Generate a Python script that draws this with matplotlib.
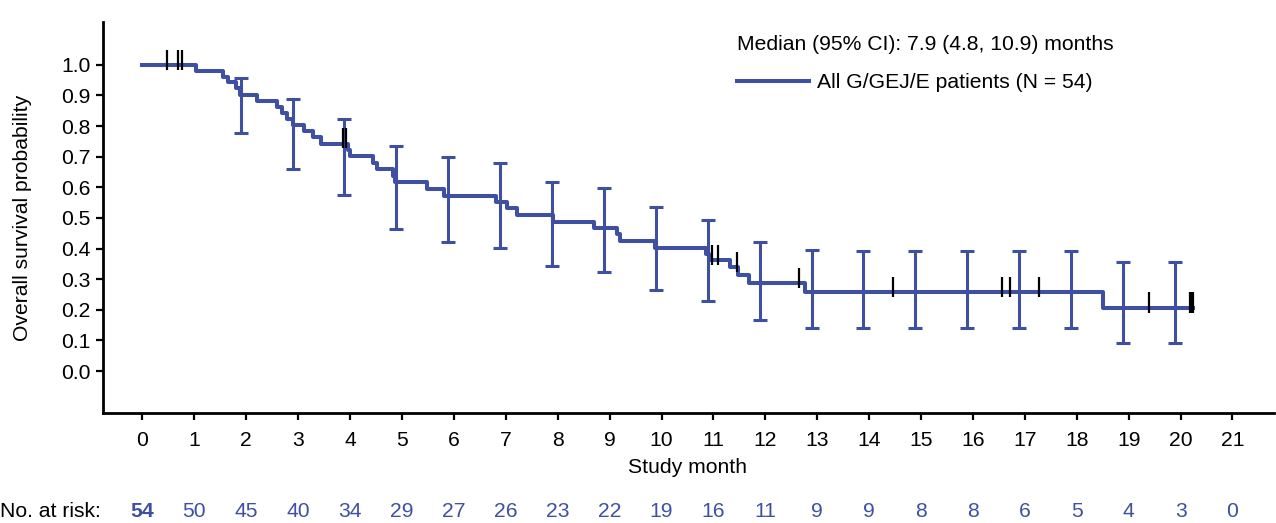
import numpy as np
import matplotlib.pyplot as plt
from matplotlib import transforms

plt.rcParams['font.family'] = ['Liberation Sans', 'DejaVu Sans']

# Kaplan-Meier steps (month, survival after the step)
times = [0, 1.03, 1.55, 1.64, 1.80, 1.87, 2.21, 2.60, 2.69, 2.78, 2.89, 3.11, 3.28, 3.44,
         3.95, 3.99, 4.45, 4.52, 4.83, 4.87, 5.49, 5.80, 6.81, 7.02, 7.22, 7.90, 8.70,
         9.14, 9.20, 9.87, 10.86, 10.92, 11.32, 11.47, 11.69, 12.76, 18.50, 20.24]
surv = [1.0, 0.981, 0.962, 0.943, 0.924, 0.902, 0.882, 0.863, 0.844, 0.823, 0.802, 0.783,
        0.763, 0.743, 0.723, 0.703, 0.681, 0.659, 0.637, 0.616, 0.595, 0.573, 0.553, 0.531,
        0.510, 0.488, 0.466, 0.447, 0.426, 0.403, 0.382, 0.362, 0.339, 0.314, 0.287, 0.258,
        0.207, 0.207]

# censored patients
cens_t = [0.48, 0.69, 0.76, 3.87, 3.93, 10.97, 11.09, 11.45, 12.65, 14.45, 16.55, 16.72,
          17.28, 19.40, 20.18, 20.21, 20.24]

# 95% CI bars
ci_t = [1.89, 2.89, 3.89, 4.89, 5.89, 6.89, 7.89, 8.89, 9.89, 10.89, 11.89, 12.89,
        13.89, 14.89, 15.89, 16.89, 17.89, 18.89, 19.89]
ci_hi = [0.957, 0.888, 0.824, 0.734, 0.698, 0.678, 0.619, 0.599, 0.537, 0.494, 0.421,
         0.394, 0.393, 0.393, 0.393, 0.393, 0.393, 0.355, 0.355]
ci_lo = [0.777, 0.661, 0.574, 0.463, 0.423, 0.401, 0.342, 0.323, 0.265, 0.229, 0.166,
         0.142, 0.141, 0.141, 0.141, 0.141, 0.141, 0.091, 0.091]

months = list(range(22))
at_risk = [54, 50, 45, 40, 34, 29, 27, 26, 23, 22, 19, 16, 11, 9, 9, 8, 8, 6, 5, 4, 3, 0]

blue = '#3f50a2'
fs = 15.2
W, H = 1276, 523

fig = plt.figure(figsize=(W/100, H/100), dpi=100)
ax = fig.add_axes([103/W, 110/H, 1171/W, 391/H])

ax.step(times, surv, where='post', color=blue, lw=2.9, zorder=3, label='All G/GEJ/E patients (N = 54)')

lo = np.array(ci_lo)
hi = np.array(ci_hi)
ax.errorbar(ci_t, lo, yerr=[np.zeros_like(lo), hi - lo], fmt='none', ecolor=blue,
            elinewidth=2.2, capsize=5.3, capthick=2.2, zorder=2)

# censor marks sit on the curve
idx = np.searchsorted(times, cens_t, side='right') - 1
cs = np.array(surv)[idx]
ax.vlines(cens_t, cs - 0.016, cs + 0.05, color='black', lw=1.6, zorder=4)

ax.set_xlim(-0.761, 21.80)
ax.set_ylim(-0.137, 1.14)
ax.set_xticks(months)
ax.set_yticks(np.round(np.arange(0, 1.01, 0.1), 1))
ax.set_yticklabels(['%.1f' % v for v in np.arange(0, 1.01, 0.1)])
ax.tick_params(direction='out', length=5, width=1.6, labelsize=fs)
ax.tick_params(axis='x', pad=8)
ax.tick_params(axis='y', pad=4)
for s in ['top', 'right']:
    ax.spines[s].set_visible(False)
for s in ['left', 'bottom']:
    ax.spines[s].set_linewidth(2)

fig.text(22.5/W, 1 - 218/H, 'Overall survival probability', rotation=90,
         ha='center', va='center', fontsize=fs)
fig.text(687.5/W, 1 - 467.5/H, 'Study month', ha='center', va='center', fontsize=fs)

# number at risk row
trans = transforms.blended_transform_factory(ax.transData, fig.transFigure)
fig.text(101/W, 1 - 511.5/H, 'No. at risk:', ha='right', va='center', fontsize=fs)
for m, n in zip(months, at_risk):
    ax.text(m, 1 - 511.5/H, str(n), transform=trans, ha='center', va='center',
            fontsize=fs, color=blue, fontweight='bold' if m == 0 else 'normal')

fig.text(737/W, 1 - 45/H, 'Median (95% CI): 7.9 (4.8, 10.9) months', ha='left',
         va='center', fontsize=fs)
ax.legend(loc='center left', bbox_to_anchor=(737/W, 1 - 83/H), bbox_transform=fig.transFigure,
          frameon=False, fontsize=fs, borderpad=0, borderaxespad=0,
          handlelength=3.41, handletextpad=0.38)

fig.savefig('out.png', dpi=100)
